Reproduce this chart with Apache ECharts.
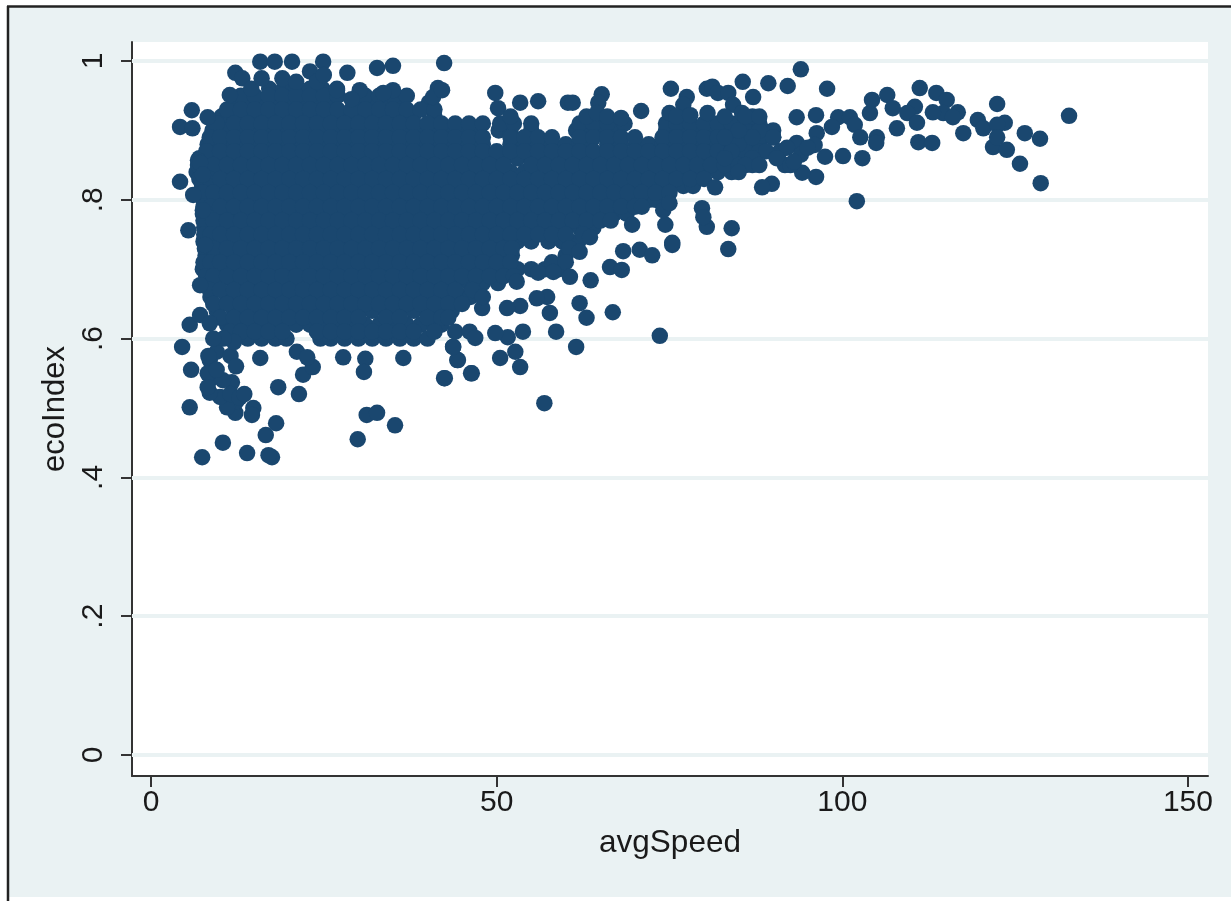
<!DOCTYPE html>
<html>
<head>
<meta charset="utf-8">
<style>html,body{margin:0;padding:0;background:#fff}#chart{width:1231px;height:901px}</style>
<script src="https://cdn.jsdelivr.net/npm/echarts@6/dist/echarts.min.js"></script>
</head>
<body>
<div id="chart"></div>
<script>
const xTicks = [0, 50, 100, 150];
const yTicks = [0, 0.2, 0.4, 0.6, 0.8, 1];
const yTickLabels = ['0', '.2', '.4', '.6', '.8', '1'];

// dense body of the cloud: one list of avgSpeed readings per ecoIndex level
const coreEco = [0.96,0.94,0.92,0.90,0.88,0.86,0.84,0.82,0.80,0.78,0.76,0.74,0.72,0.70,0.68,0.66,0.64,0.62,0.60];
const coreSpeed = [
 [17.1,19.2,21,23,24.8,26.9],
 [12.3,14.1,16,18.2,20,22.1,24,26.1,30,32.1,34,36.2,40.2],
 [10.2,12.1,13.9,16,17.8,20,22.1,23.9,26,28.1,30,31.9,34,35.8,37.9,41],
 [8.9,11,13,14.8,17,19,21,22.9,25,27,29,31,33,35,36.9,39,41,43,45.1,47,50.3,52,55,61.5,63.5,65.5,67.5,74.5,76.5,78.5,80.5,82.5,84.5,86.5,88.5,90],
 [8.2,10,12.1,14,16,17.9,20,22,24,26,28,30,32,34,36,38,40,42,44,46,48,52,54.1,56,58,60,62,63.5,66,68,70.2,72,74,76,78,80,82,84,86,88],
 [7,9,11,13.1,15,17,19,20.9,23,25,27,29,31,33,35,37,39,41,42.9,45,47,49,51,53,55,57,59,61,63,65,67,69,71,73,75,77,79,81,83,85,87],
 [6.6,8.3,10,12,14,16,18,20,22,24,26,28,30,32,34,36,38,40,42,44,46,48,50,52,54,56,58,60,62,64,66,68,70,72,74,76,78,80,82,84],
 [7.4,9.1,11,13,15,17,19,21,23,25,27,29,31,33,35,37,39,41,43,45,47,49,51,53,55,57,59,61,63,65,67,69,71,73,75,77,78.4],
 [7.6,8.6,10,12,14,16,18,20,22,24,26,28,30,32,34,36,38,40,42,44,46,48,50,52,54,56,58,60,62,64,66,68,70,72,73],
 [7.5,9,11,13,15,17,19,21,23,25,27,29,31,33,35,37,39,41,43,45,47,49,51,53,55,57,59,61,63,65,67,68.8],
 [7.7,8.5,10,12,14,16,18,20,22,24,26,28,30,32,34,36,38,40,42,44,46,48,50,52,54,56,58,60,62,64],
 [7.6,9,11,13,15,17,19,21,23,25,27,29,31,33,35,37,39,41,43,45,47,49,51,53,55,57.5,59.5,61.8],
 [7.9,8.8,10,12,14,16,18,20,22,24,26,28,30,32,34,36,38,40,42,44,46,48,50,52.2,60],
 [7.5,9,11,13,15,17,19,21,23,25,27,29,31,33,35,37,39,41,43,45,47,49,51,53,55,57,59],
 [8,9.8,12,14,16,18,20,22,24,26,28,30,32,34,36,38,40,42,44,46,48,50.2],
 [8.6,11,13,15,17,19,21,23,25,27,29,31,33,35,37,39,41,43,45,46.2],
 [9.5,12,14,16,18,20,22,24,26,28,30,32,34,36,38,40,42,43.5],
 [11,13,15,17,19,21,23,25,27,29,31,33,35,37,39,41,42],
 [12,14,16,18,19.6,24.5,26,28,30,32,34,36,38,40]
];

// readings that lie between those levels
const midEco = [0.95,0.93,0.91,0.89,0.87,0.85,0.83,0.81,0.79,0.77,0.75,0.73,0.71,0.69,0.67,0.65,0.63,0.61];
const midSpeed = [
 [13,15,17,19,21,23,25,27,31,33,35,37],
 [11,13,15,17,19,21,23,25,27,29,31,33,35,37,39,41],
 [9.5,12,14,16,18,20,22,24,26,28,30,32,34,36,38,40,42,44,46,48,50.5,52.5,55,62,64,66,68.5,74.5,76,78,80,82,84,86,88],
 [8.5,10,12,14,16,18,20,22,24,26,28,30,32,34,36,38,40,42,44,46,48,52,54,56,58,62,64,66,68,70,74,76,78,80,82,84,86,88,90],
 [8,10,12,14,16,18,20,22,24,26,28,30,32,34,36,38,40,42,44,46,48,50,52,54,56,58,60,62,64,66,68,70,72,74,76,78,80,82,84,86,88],
 [6.8,9,11,13,15,17,19,21,23,25,27,29,31,33,35,37,39,41,43,45,47,49,51,55,57,59,61,63,65,67,69,71,73,75,77,79,81,83,85,87],
 [7,8.5,10,12,14,16,18,20,22,24,26,28,30,32,34,36,38,40,42,44,46,48,50,52,54,56,58,60,62,64,66,68,70,72,74,76,78,80],
 [7.5,9,11,13,15,17,19,21,23,25,27,29,31,33,35,37,39,41,43,45,47,49,51,53,55,57,59,61,63,65,67,69,71,73,75],
 [7.6,8.6,10,12,14,16,18,20,22,24,26,28,30,32,34,36,38,40,42,44,46,48,50,52,54,56,58,60,62,64,66,68,70,71],
 [7.6,9,11,13,15,17,19,21,23,25,27,29,31,33,35,37,39,41,43,45,47,49,51,53,55,57,59,61,63,65,66.5],
 [7.7,8.6,10,12,14,16,18,20,22,24,26,28,30,32,34,36,38,40,42,44,46,48,50,52,54,56,58,60,62.5],
 [7.8,9,11,13,15,17,19,21,23,25,27,29,31,33,35,37,39,41,43,45,47,49,51,52.2,60.5],
 [7.6,8.6,10,12,14,16,18,20,22,24,26,28,30,32,34,36,38,40,42,44,46,48,50,52,58,60],
 [8,9,11,13,15,17,19,21,23,25,27,29,31,33,35,37,39,41,43,45,47,49,51,52.5],
 [8.5,10,12,14,16,18,20,22,24,26,28,30,32,34,36,38,40,42,44,46.5],
 [9,11,13,15,17,19,21,23,25,27,29,31,33,35,37,39,41,43,45],
 [10,12,14,16,18,20,22,24,26,28,30,34,36,40,42,43],
 [11.5,13,15,17,19,24,26,28,30,32,34,36,38,41]
];

// ragged upper edge
const topSpeed = [15.8,17.9,20.4,24.9,12.2,13.2,11.4,5.9,4.2,8.2,6,28.4,32.7,35,42.4,41.5,40.8,35,33.6,30.2,26.9,49.8,50.2,53.4,56,60.3,61,65.2,64.7,70.9,75.2,77.5,77,80.4,81.2,82,83.5,85.6,84.2,87.1,42.1,14.5,16,19,21,23,24,25,29,52,63,64.5,66,68,75,76,78,80.5,83,85.5,87];
const topEco = [0.999,0.999,0.999,0.999,0.983,0.975,0.951,0.929,0.905,0.919,0.903,0.983,0.99,0.993,0.997,0.961,0.948,0.958,0.954,0.958,0.958,0.954,0.932,0.94,0.942,0.94,0.94,0.952,0.94,0.928,0.96,0.948,0.937,0.96,0.963,0.954,0.954,0.97,0.937,0.948,0.958,0.96,0.975,0.975,0.97,0.985,0.97,0.98,0.945,0.92,0.92,0.925,0.92,0.918,0.925,0.92,0.922,0.925,0.92,0.925,0.92];

// left edge
const leftSpeed = [6.8,4.2,6.1,5.4,7.1,7.5,7.5,7.8,7.1];
const leftEco = [0.857,0.826,0.807,0.756,0.853,0.836,0.785,0.735,0.677];

// ragged lower edge and isolated low points
const lowSpeed = [4.5,5.8,5.6,7.4,10.4,13.9,17.5,17,16.6,18.1,14.8,14.6,12.2,12.3,11,10,8.5,8.8,11.7,10.4,8.5,9.5,18.4,21.4,22,23.4,15.8,21.1,22.6,27.8,31,30.8,36.5,42.4,46.3,44.4,43.7,31.2,32.7,35.3,29.9,5.6,7.1,8.5,56.9,73.6,61.5,58.6,53.4,52.7,50.5,53.8,51.6,49.8,46.4,42.5,44.3,43.7,44,46.1,46.9,66.8,63,62,57.7,57.3,55.8,53.4,51.5,47.9,48,63.6,60.6,52.9,56,58.2,66.4,68.1,68.3,70.7,72.5,75.4,83.5,62,84,80.4,79.7,79.9,81.6,75.4,74.4,74.1,75,69.6,63.5,11.5,12.3,12,10.5,9,8.3,8.2,9.5,11.5,12.8,13.5,8.2];
const lowEco = [0.588,0.555,0.501,0.429,0.45,0.435,0.429,0.432,0.461,0.478,0.5,0.49,0.493,0.509,0.501,0.516,0.522,0.543,0.537,0.54,0.569,0.581,0.53,0.52,0.548,0.559,0.572,0.581,0.573,0.573,0.571,0.552,0.572,0.543,0.55,0.569,0.588,0.49,0.493,0.475,0.455,0.62,0.634,0.622,0.507,0.604,0.588,0.61,0.559,0.581,0.572,0.61,0.602,0.608,0.55,0.543,0.569,0.588,0.61,0.61,0.601,0.638,0.63,0.651,0.637,0.66,0.658,0.647,0.644,0.644,0.66,0.684,0.689,0.682,0.695,0.696,0.703,0.699,0.726,0.728,0.72,0.735,0.729,0.725,0.759,0.761,0.788,0.775,0.818,0.738,0.764,0.785,0.795,0.764,0.746,0.575,0.56,0.595,0.6,0.6,0.575,0.55,0.555,0.52,0.515,0.52,0.53];

// high speed tail
const tailSpeed = [94,89.3,92.1,97.8,93.4,96.2,97.5,100.1,102.9,102.1,96.2,94.2,91.7,89.8,88.4,99.4,101.1,98.5,96.3,96,93.4,101.8,102.6,104,104.3,106.5,107.3,107.9,105,104.9,111.2,110.5,109.4,110.8,111,113,113.6,115.1,114.6,113.1,116.7,116,117.5,119.6,120.4,122.4,123.5,122.4,121.8,122.4,123.8,126.4,128.6,125.7,128.7,132.8,88,90,91,89,87,86,85,87,85,86,88,84,83,83,85,88,92,94,90.5,92.5,95,93];
const tailEco = [0.988,0.968,0.964,0.96,0.919,0.922,0.862,0.863,0.86,0.798,0.833,0.839,0.85,0.823,0.818,0.919,0.919,0.905,0.896,0.879,0.882,0.908,0.89,0.925,0.944,0.951,0.932,0.903,0.89,0.882,0.961,0.934,0.925,0.911,0.883,0.882,0.954,0.944,0.925,0.926,0.926,0.919,0.896,0.915,0.903,0.938,0.911,0.908,0.876,0.89,0.872,0.896,0.888,0.852,0.824,0.921,0.9,0.89,0.87,0.87,0.86,0.85,0.88,0.89,0.9,0.92,0.92,0.87,0.86,0.89,0.84,0.85,0.875,0.865,0.86,0.85,0.875,0.855];

const points = [];
coreSpeed.forEach((row, i) => row.forEach(s => points.push([s, coreEco[i]])));
midSpeed.forEach((row, i) => row.forEach(s => points.push([s, midEco[i]])));
[[topSpeed, topEco], [leftSpeed, leftEco], [lowSpeed, lowEco], [tailSpeed, tailEco]].forEach(([a, b]) =>
  a.forEach((s, i) => points.push([s, b[i]])));

const ink = '#1a1a1a', axisInk = '#333', stataBg = '#eaf2f3', navy = '#1a476f', font = 'Liberation Sans';
const chart = echarts.init(document.getElementById('chart'), null, {renderer: 'canvas'});
chart.setOption({
  animation: false,
  backgroundColor: '#fff',
  graphic: [
    {type: 'rect', z: -10, shape: {x: 8, y: 7, width: 1223, height: 890}, style: {fill: stataBg}},
    {type: 'line', z: -9, shape: {x1: 8, y1: 6, x2: 8, y2: 901}, style: {stroke: '#222', lineWidth: 2.5}},
    {type: 'line', z: -9, shape: {x1: 7, y1: 6.5, x2: 1231, y2: 6.5}, style: {stroke: '#222', lineWidth: 2.5}}
  ],
  grid: {left: 132, right: 23, top: 42, bottom: 125, show: true, backgroundColor: '#fff', borderWidth: 0},
  xAxis: {
    type: 'value', min: -2.75, max: 152.9,
    name: 'avgSpeed', nameLocation: 'middle', nameGap: 51,
    nameTextStyle: {fontFamily: font, fontSize: 31.5, color: ink},
    axisLine: {onZero: false, lineStyle: {color: axisInk, width: 2}},
    axisTick: {customValues: xTicks, length: 11, lineStyle: {color: axisInk, width: 2}},
    axisLabel: {customValues: xTicks, fontFamily: font, fontSize: 30, color: ink, margin: 12, formatter: v => String(v), hideOverlap: false},
    splitLine: {show: false}
  },
  yAxis: {
    type: 'value', min: -0.0303, max: 1.0274,
    name: 'ecoIndex', nameLocation: 'middle', nameGap: 54,
    nameTextStyle: {fontFamily: font, fontSize: 31, color: ink},
    axisLine: {onZero: false, lineStyle: {color: axisInk, width: 2}},
    axisTick: {customValues: yTicks, length: 11, lineStyle: {color: axisInk, width: 2}},
    axisLabel: {customValues: yTicks, rotate: 90, fontFamily: font, fontSize: 30, color: ink, margin: 23,
      formatter: v => yTickLabels[yTicks.findIndex(t => Math.abs(t - v) < 1e-6)], hideOverlap: false},
    splitLine: {show: false}
  },
  series: [{
    type: 'scatter', data: points, symbol: 'circle', symbolSize: 16.5,
    itemStyle: {color: navy, opacity: 1}, silent: true, clip: false,
    large: false,
    markLine: {
      silent: true, symbol: 'none', z: 1, animation: false, label: {show: false},
      lineStyle: {color: stataBg, width: 4, type: 'solid'},
      data: yTicks.map(t => ({yAxis: t}))
    }
  }]
});
</script>
</body>
</html>
